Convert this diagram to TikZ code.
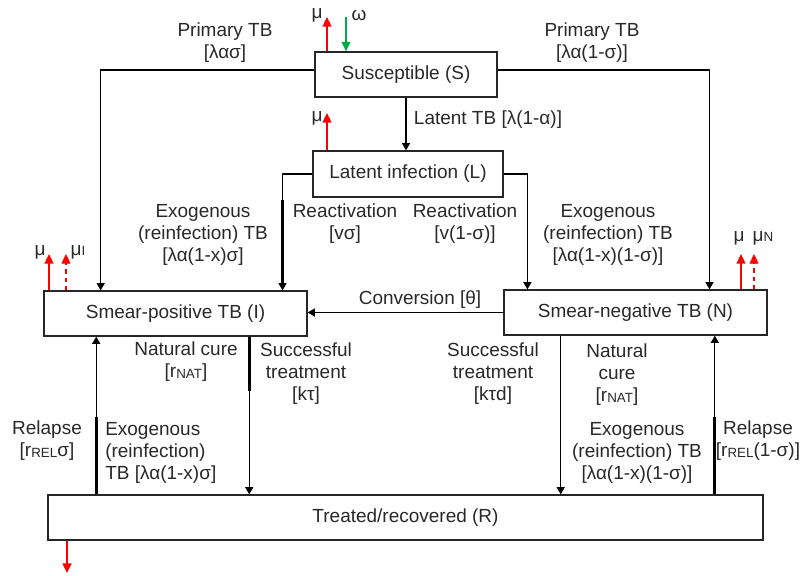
\documentclass[tikz,border=0pt]{standalone}
\usepackage{fontspec}
\setmainfont{Liberation Sans}
\usetikzlibrary{calc,positioning,arrows.meta,fit}
\makeatletter
\tikzset{
  box node/.style={
    inner sep=0pt,
    draw=none,
    fill=none,
    plain transform,
    fit={(\pgf@pathminx,\pgf@pathminy) (\pgf@pathmaxx,\pgf@pathmaxy)}
  },
  plain transform/.code={\pgftransformreset}
}
\makeatother
\definecolor{txtgray}{RGB}{40,40,40}
\definecolor{deathred}{RGB}{255,0,0}
\definecolor{birthgreen}{RGB}{0,170,70}
\newcommand{\smallsub}[1]{\raisebox{-0.4pt}{\fontsize{9.5}{10}\selectfont #1}}
\tikzset{
  compartment/.style={draw=black!85,line width=0.9pt},
  flow/.style={draw=black,line width=0.95pt,-{Triangle[length=0.18cm,width=0.2cm]}},
  overlap/.style={draw=black,line width=2pt},
  death/.style={draw=deathred,line width=1.2pt,-{Triangle[length=0.24cm,width=0.22cm]}},
  birth/.style={draw=birthgreen,line width=1.2pt,-{Triangle[length=0.24cm,width=0.22cm]}},
  ratetext/.style={align=center,inner sep=0pt}
}

\begin{document}
\begin{tikzpicture}[x=0.025cm,y=-0.025cm,font=\fontsize{13.5}{15.6}\selectfont,text=txtgray]
  \useasboundingbox (0,0) rectangle (800,575);

  % compartments
  \draw[compartment] (315,52) rectangle (497,97) node[box node] (susceptible) {};
  \node[ratetext] (susceptible_label) at (susceptible) {Susceptible (S)};
  \draw[compartment] (313,151) rectangle (503,197) node[box node] (latent) {};
  \node[ratetext] (latent_label) at (latent) {Latent infection (L)};
  \draw[compartment] (44,291) rectangle (307,336) node[box node] (smearpos) {};
  \node[ratetext] (smearpos_label) at (smearpos) {Smear-positive TB (I)};
  \draw[compartment] (504,290) rectangle (767,335) node[box node] (smearneg) {};
  \node[ratetext] (smearneg_label) at (smearneg) {Smear-negative TB (N)};
  \draw[compartment] (48,495) rectangle (763,540) node[box node] (treated) {};
  \node[ratetext] (treated_label) at (treated) {Treated/recovered (R)};

  % primary and latent infection
  \coordinate (S_left) at ($(susceptible.north west)!.4!(susceptible.south west)$);
  \coordinate (S_right) at ($(susceptible.north east)!.4!(susceptible.south east)$);
  \coordinate (S_to_I) at ($(smearpos.north west)!.217!(smearpos.north east)$);
  \coordinate (S_to_N) at ($(smearneg.north west)!.78!(smearneg.north east)$);
  \draw[flow] (S_left) -| (S_to_I);
  \draw[flow] (S_right) -| (S_to_N);
  \draw[flow] (susceptible.south) -- (susceptible.south |- latent.north);

  % reactivation
  \coordinate (L_to_I) at ($(smearpos.north west)!.905!(smearpos.north east)$);
  \coordinate (L_to_N) at ($(smearneg.north west)!.091!(smearneg.north east)$);
  \draw[flow] (latent.west) -| (L_to_I);
  \draw[flow] (latent.east) -| (L_to_N);
  \draw[overlap] ([yshift=.18cm]L_to_I) -- ([yshift=2.27cm]L_to_I);

  \draw[flow] (smearneg.west) -- (smearneg.west -| smearpos.east);

  % cure, treatment and relapse
  \coordinate (I_to_R) at ($(smearpos.south west)!.779!(smearpos.south east)$);
  \coordinate (R_to_I) at ($(smearpos.south west)!.2!(smearpos.south east)$);
  \coordinate (R_up_I) at (R_to_I |- treated.north);
  \draw[flow] (I_to_R) -- (I_to_R |- treated.north);
  \draw[overlap] (I_to_R) -- ([yshift=-1.35cm]I_to_R);
  \draw[flow] (R_up_I) -- (R_to_I);
  \draw[overlap] (R_up_I) -- ([yshift=1.93cm]R_up_I);

  \coordinate (N_to_R) at ($(smearneg.south west)!.217!(smearneg.south east)$);
  \coordinate (R_to_N) at ($(smearneg.south west)!.8!(smearneg.south east)$);
  \coordinate (R_up_N) at (R_to_N |- treated.north);
  \draw[flow] (N_to_R) -- (N_to_R |- treated.north);
  \draw[flow] (R_up_N) -- (R_to_N);
  \draw[overlap] (R_up_N) -- ([yshift=1.93cm]R_up_N);

  % births and deaths
  \coordinate (mu_S_tip) at (327,17);
  \coordinate (omega_tail) at (346,17);
  \coordinate (mu_L_tip) at (327,113);
  \coordinate (mu_I_tip) at (49,254);
  \coordinate (muI_I_tip) at (66,254);
  \coordinate (mu_N_tip) at (741,254);
  \coordinate (muN_N_tip) at (754,254);
  \coordinate (mu_R_tip) at (67,573);
  \draw[death] (mu_S_tip |- susceptible.north) -- (mu_S_tip);
  \draw[birth] (omega_tail) -- (omega_tail |- susceptible.north);
  \draw[death] (mu_L_tip |- latent.north) -- (mu_L_tip);
  \draw[death] (mu_I_tip |- smearpos.north) -- (mu_I_tip);
  \draw[death,dashed] (muI_I_tip |- smearpos.north) -- (muI_I_tip);
  \draw[death] (mu_N_tip |- smearneg.north) -- (mu_N_tip);
  \draw[death,dashed] (muN_N_tip |- smearneg.north) -- (muN_N_tip);
  \draw[death] (mu_R_tip |- treated.south) -- (mu_R_tip);

  \node[ratetext] (mu_S_label) at (317,15) {μ};
  \node[ratetext] (omega_label) at (359,15) {ω};
  \node[ratetext] (mu_L_label) at (317,118) {μ};
  \node[ratetext] (mu_I_label) at (40,252) {μ};
  \node[ratetext] (muI_label) at (78,252) {μ\smallsub{I}};
  \node[ratetext] (mu_N_label) at (739,238) {μ};
  \node[ratetext] (muN_label) at (763,238) {μ\smallsub{N}};

  % rate labels
  \node[ratetext] (primary_I_label) at (225,43) {Primary TB\\{[λασ]}};
  \node[ratetext] (primary_N_label) at (592,43) {Primary TB\\{[λα(1-σ)]}};
  \node[ratetext] (latentTB_label) at (488,120) {Latent TB [λ(1-α)]};
  \node[ratetext] (exo_I_label) at (203,235) {Exogenous\\(reinfection) TB\\{[λα(1-x)σ]}};
  \node[ratetext] (react_I_label) at (345,224) {Reactivation\\{[vσ]}};
  \node[ratetext] (react_N_label) at (465,224) {Reactivation\\{[v(1-σ)]}};
  \node[ratetext] (exo_N_label) at (608,235) {Exogenous\\(reinfection) TB\\{[λα(1-x)(1-σ)]}};
  \node[ratetext] (conversion_label) at (420,300) {Conversion [θ]};
  \node[ratetext] (natcure_I_label) at (186,362) {Natural cure\\{[r\smallsub{NAT}]}};
  \node[ratetext] (treat_I_label) at (306,374) {Successful\\treatment\\{[kτ]}};
  \node[ratetext] (relapse_I_label) at (47,441) {Relapse\\{[r\smallsub{REL}σ]}};
  \node[ratetext,align=left,anchor=west] (exo_RI_label) at (105,453) {Exogenous\\(reinfection)\\TB [λα(1-x)σ]};
  \node[ratetext] (treat_N_label) at (493,374) {Successful\\treatment\\{[kτd]}};
  \node[ratetext] (natcure_N_label) at (617,375) {Natural\\cure\\{[r\smallsub{NAT}]}};
  \node[ratetext] (exo_RN_label) at (637,453) {Exogenous\\(reinfection) TB\\{[λα(1-x)(1-σ)]}};
  \node[ratetext] (relapse_N_label) at (758,441) {Relapse\\{[r\smallsub{REL}(1-σ)]}};
\end{tikzpicture}
\end{document}
